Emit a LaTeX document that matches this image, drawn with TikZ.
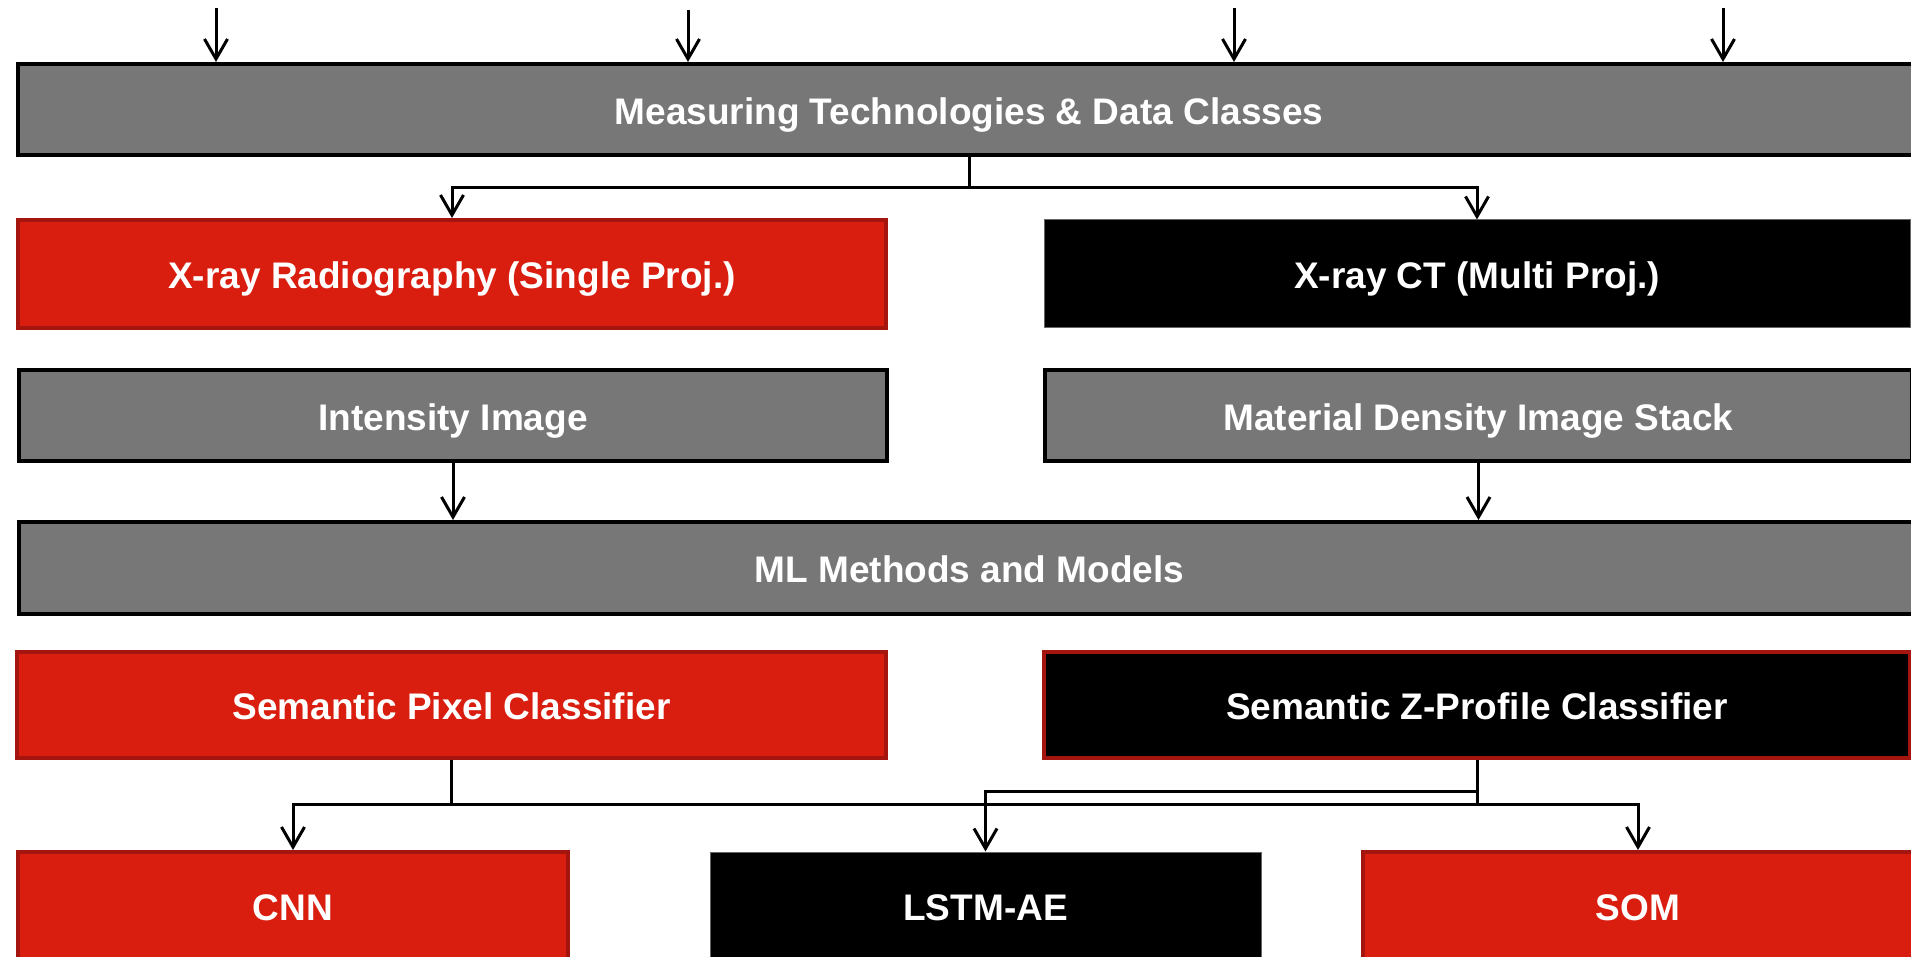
\documentclass[tikz,border=0pt]{standalone}
\usepackage{fontspec}
\setmainfont{Liberation Sans}
\usetikzlibrary{arrows.meta,calc}

\definecolor{boxgray}{HTML}{777777}
\definecolor{boxred}{HTML}{D91E10}
\definecolor{edgered}{HTML}{A5150F}
\definecolor{edgegray}{HTML}{666666}

\tikzset{
  box/.style={rectangle, inner sep=0pt, text=white,
    font=\fontsize{37}{44}\selectfont\bfseries,
    text height=29.5pt, text depth=0pt, align=center},
  graybox/.style={box, fill=boxgray, draw=black, line width=4pt},
  redbox/.style={box, fill=boxred, draw=edgered, line width=4pt},
  blackbox/.style={box, fill=black, draw=edgegray, line width=1pt},
  blackredbox/.style={box, fill=black, draw=edgered, line width=4pt},
  link/.style={draw=black, line width=3pt,
    -{Straight Barb[length=20pt,width=23pt,line width=3pt]}},
  joint/.style={draw=black, line width=3pt},
}

\begin{document}
\begin{tikzpicture}[x=1pt, y=-1pt]
\path[use as bounding box, clip] (0,0) rectangle (1911,957);

% level 1
\node[graybox, minimum width=1902pt, minimum height=91pt] (meas) at (969,109.5)
  {Measuring Technologies \& Data Classes};

% level 2: measuring technologies
\node[redbox, minimum width=868pt, minimum height=108pt] (xrr) at (452,274)
  {X-ray Radiography (Single Proj.)};
\node[blackbox, minimum width=866pt, minimum height=108pt] (xct) at (1477,274)
  {X-ray CT (Multi Proj.)};

% level 3: data classes
\node[graybox, minimum width=868pt, minimum height=91pt] (int) at (453,415.5)
  {Intensity Image};
\node[graybox, minimum width=867pt, minimum height=91pt] (mdis) at (1478.5,415.5)
  {Material Density Image Stack};

% level 4
\node[graybox, minimum width=1901pt, minimum height=92pt] (ml) at (969.5,568)
  {ML Methods and Models};

% level 5: classifiers
\node[redbox, minimum width=869pt, minimum height=106pt] (spc) at (451.5,705)
  {Semantic Pixel Classifier};
\node[blackredbox, minimum width=866pt, minimum height=106pt] (szp) at (1477,705)
  {Semantic Z-Profile Classifier};

% level 6: models
\node[redbox, minimum width=550pt, minimum height=107pt] (cnn) at (293,905.5) {CNN};
\node[blackbox, minimum width=551pt, minimum height=107pt] (lstm) at (985.5,905.5) {LSTM-AE};
\node[redbox, minimum width=550pt, minimum height=107pt] (som) at (1638,905.5) {SOM};

% incoming arrows
\coordinate (in1) at (216,8);
\coordinate (in2) at (688,10);
\coordinate (in3) at (1234,8);
\coordinate (in4) at (1723,8);
\foreach \c in {in1,in2,in3,in4}
  \draw[link] (\c) -- (\c |- meas.north);

% branching points
\coordinate (jm) at (969,187.5);
\coordinate (jp) at (451.5,804);
\coordinate (jz) at (1477,804);
\coordinate (jl) at (1477,791);

\draw[joint] (meas.south) -- (jm);
\draw[link] (jm) -| (xrr.north);
\draw[link] (jm) -| (xct.north);

\draw[link] (int.south) -- (int.south |- ml.north);
\draw[link] (mdis.south) -- (mdis.south |- ml.north);

\draw[joint] (spc.south) -- (jp);
\draw[link] (jp) -| (cnn.north);
\draw[link] (jp) -| (som.north);
\draw[joint] (szp.south) -- (jz);
\draw[link] (jl) -| (lstm.north);
\end{tikzpicture}
\end{document}
